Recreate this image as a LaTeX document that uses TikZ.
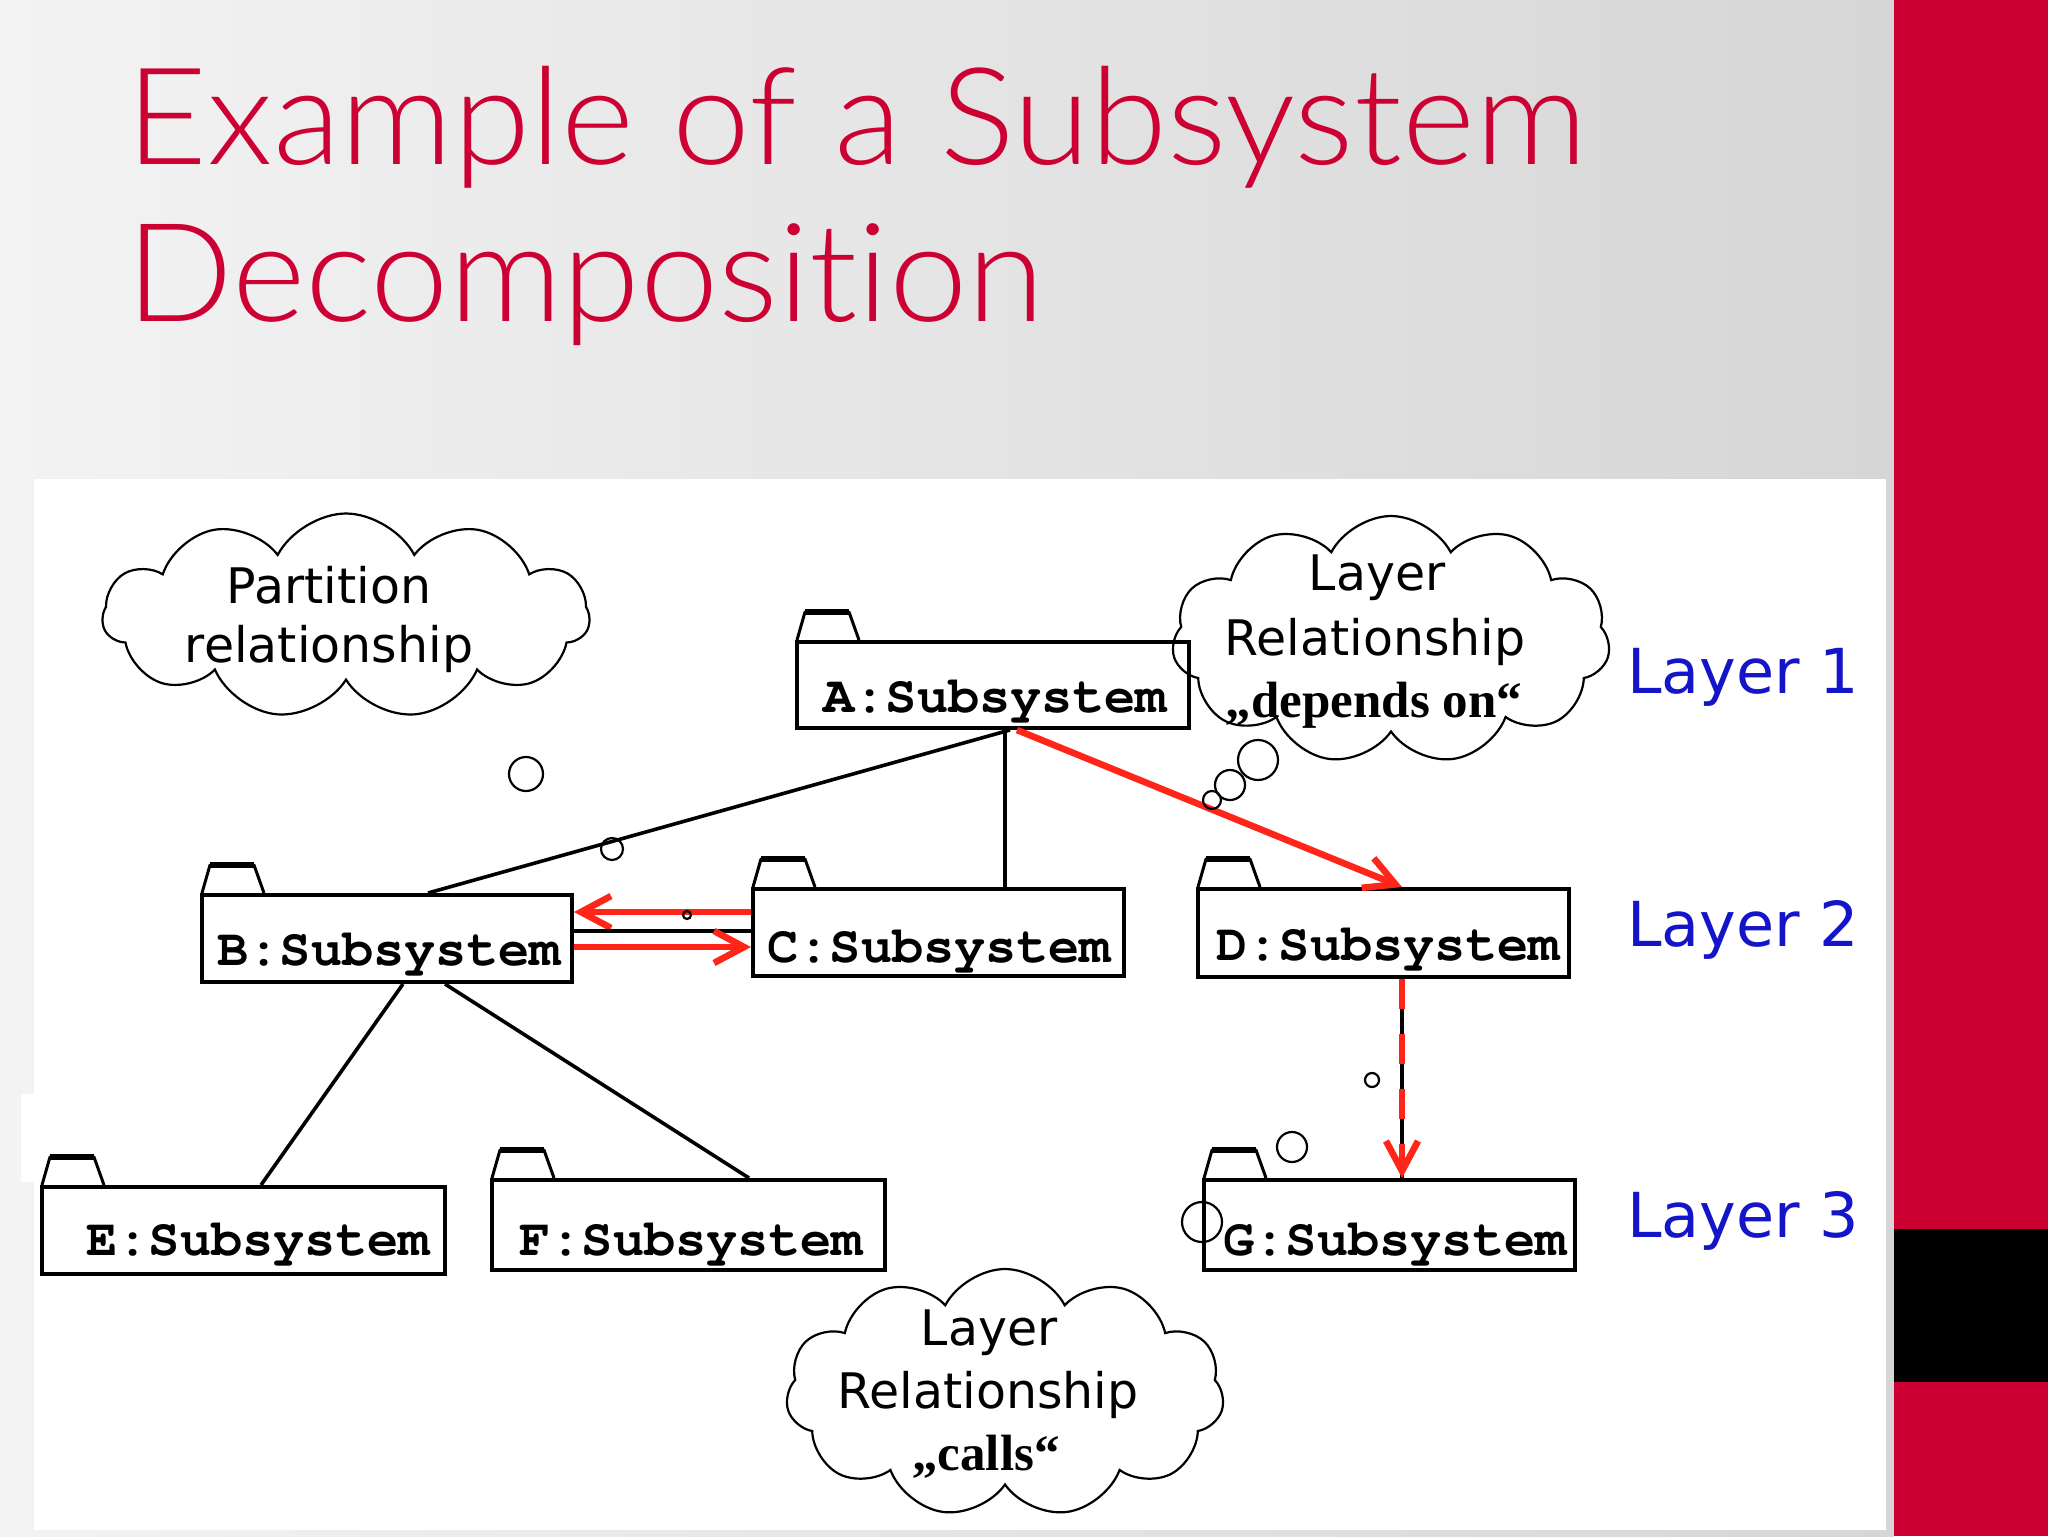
\documentclass[tikz,border=0pt]{standalone}
\usepackage{fontspec}
\usepackage{graphicx}
\usetikzlibrary{shapes.symbols,arrows.meta,calc}
\newfontfamily\lblfont{DejaVu Sans}
\IfFontExistsTF{TeX Gyre Cursor}{\newfontfamily\pkgfont{TeX Gyre Cursor}}{\newfontfamily\pkgfont{Liberation Mono}}
\newfontfamily\serfont{Liberation Serif}
\IfFontExistsTF{Lato Light}{\newfontfamily\titlefont[Ligatures=NoCommon]{Lato Light}}{\newfontfamily\titlefont{Lato}}
\definecolor{crim}{RGB}{204,0,51}
\definecolor{arrred}{RGB}{255,38,25}
\definecolor{lblue}{RGB}{20,20,200}
\definecolor{bgL}{RGB}{243,243,243}
\definecolor{bgR}{RGB}{214,214,214}
\begin{document}
\begin{tikzpicture}[x=0.5pt,y=-0.5pt,
  pkg/.style={draw, line width=2pt, rectangle, inner sep=0, anchor=north west},
  tabside/.style={line width=1.5pt, line join=round},
  tabtop/.style={line width=3pt},
  boxtext/.style={font=\pkgfont\bfseries\fontsize{26}{26}\selectfont, inner sep=0, anchor=base west},
  cloudtext/.style={font=\lblfont\fontsize{24.5}{24.5}\selectfont, inner sep=0, anchor=base},
  sertext/.style={font=\serfont\bfseries\fontsize{25.5}{25.5}\selectfont, inner sep=0, anchor=base},
  layerlbl/.style={font=\lblfont\fontsize{31}{31}\selectfont, text=lblue, inner sep=0, anchor=base west},
  cloudsty/.style={draw, cloud, cloud puffs=11, cloud puff arc=125, line width=1.1pt, inner sep=0},
  bubble/.style={draw, circle, line width=1.1pt, inner sep=0},
  conn/.style={line width=1.8pt, black},
  redarr/.style={line width=3.3pt, arrred, -{Straight Barb[length=15pt,width=16pt]}}
]
\useasboundingbox (0,0) rectangle (2048,1536);
% background
\shade[left color=bgL, right color=bgR] (0,0) rectangle (1894,1536);
\fill[crim] (1894,0) rectangle (2048,1536);
\fill[black] (1894,1229) rectangle (2048,1382);
\fill[white] (34,479) rectangle (1886,1530);
\fill[white] (21,1094) rectangle (34,1182);
% title
\node[anchor=north west, inner sep=0, text=crim] (t1) at (126,66) {\resizebox*{730pt}{61pt}{\titlefont Example of a Subsystem}};
\node[anchor=north west, inner sep=0, text=crim] (t2) at (126,223) {\resizebox*{459pt}{61pt}{\titlefont Decomposition}};
% packages
\node[pkg, minimum width=196pt, minimum height=43pt] (A) at (795,640) {};
\node[pkg, minimum width=185pt, minimum height=43.5pt] (B) at (200,893) {};
\node[pkg, minimum width=185.5pt, minimum height=43.5pt] (C) at (751,887) {};
\node[pkg, minimum width=185.5pt, minimum height=44pt] (D) at (1196,887) {};
\node[pkg, minimum width=201.5pt, minimum height=43.5pt] (E) at (40,1185) {};
\node[pkg, minimum width=196.5pt, minimum height=45pt] (F) at (490,1178) {};
\node[pkg, minimum width=185.5pt, minimum height=45pt] (G) at (1202,1178) {};
\foreach \n in {A,B,C,D,E,F,G}{
  \draw[tabside] ($(\n.north west)+(2,0)$) -- ++(8,-28) -- ++(44,0) -- ++(10,28);
  \draw[tabtop] ($(\n.north west)+(10,-28)$) -- ++(44,0);
}
\node[boxtext] (At) at (823,712) {A:Subsystem};
\node[boxtext] (Bt) at (217,965) {B:Subsystem};
\node[boxtext] (Ct) at (767,962) {C:Subsystem};
\node[boxtext] (Dt) at (1216,960) {D:Subsystem};
\node[boxtext] (Et) at (86,1255) {E:Subsystem};
\node[boxtext] (Ft) at (519,1255) {F:Subsystem};
\node[boxtext] (Gt) at (1223,1255) {G:Subsystem};
% partition connectors
\draw[conn] ($(A.south west)+(215,0)$) -- ($(B.north west)+(228,0)$);
\draw[conn] ($(A.south west)+(210,0)$) -- ($(C.north west)+(254,0)$);
\draw[conn] ($(B.south west)+(203,0)$) -- ($(E.north west)+(221,0)$);
\draw[conn] ($(B.south west)+(245,0)$) -- ($(F.north west)+(259,0)$);
% layer relationships
\draw[redarr] ($(A.south west)+(222,0)$) -- ($(D.north west)+(206,0)$);
\draw[redarr] ($(C.north west)+(0,25)$) -- ($(B.north east)+(0,19)$);
\draw[conn, line width=2.4pt] ($(B.north east)+(0,38)$) -- ($(C.north west)+(0,44)$);
\draw[redarr] ($(B.north east)+(0,54)$) -- ($(C.north west)+(0,60)$);
\draw[conn] ($(D.south west)+(206,0)$) -- ($(G.north west)+(200,0)$);
\draw[redarr, dash pattern=on 15pt off 12.5pt] ($(D.south west)+(206,0)$) -- ($(G.north west)+(200,0)$);
% clouds
\node[cloudsty, minimum width=243.5pt, minimum height=102.5pt, aspect=2.4] (c1) at (346,616) {};
\node[cloudsty, minimum width=219pt, minimum height=124pt, aspect=1.77] (c2) at (1391,640) {};
\node[cloudsty, minimum width=219pt, minimum height=124pt, aspect=1.77] (c3) at (1005,1393) {};
\node[cloudtext] (c1a) at (329,603) {Partition};
\node[cloudtext] (c1b) at (329,662) {relationship};
\node[cloudtext] (c2a) at (1377,590) {Layer};
\node[cloudtext] (c2b) at (1375,655) {Relationship};
\node[sertext] (c2c) at (1374,717) {„depends on“};
\node[cloudtext] (c3a) at (989,1345) {Layer};
\node[cloudtext] (c3b) at (988,1408) {Relationship};
\node[sertext] (c3c) at (986,1470) {„calls“};
% bubbles
\node[bubble, minimum size=17pt] (b1) at (526,774) {};
\node[bubble, minimum size=11pt] (b2) at (612,849) {};
\node[bubble, minimum size=4pt] (b3) at (687,915) {};
\node[bubble, minimum size=20pt] (b4) at (1258,760) {};
\node[bubble, minimum size=15pt] (b5) at (1230,785) {};
\node[bubble, minimum size=9pt] (b6) at (1212,800) {};
\node[bubble, minimum size=7pt] (b7) at (1372,1080) {};
\node[bubble, minimum size=15pt] (b8) at (1292,1147) {};
\node[bubble, minimum size=20pt] (b9) at (1202,1222) {};
% layer labels
\node[layerlbl] (L1) at (1627,693) {Layer 1};
\node[layerlbl] (L2) at (1627,946) {Layer 2};
\node[layerlbl] (L3) at (1627,1237) {Layer 3};
\end{tikzpicture}
\end{document}
